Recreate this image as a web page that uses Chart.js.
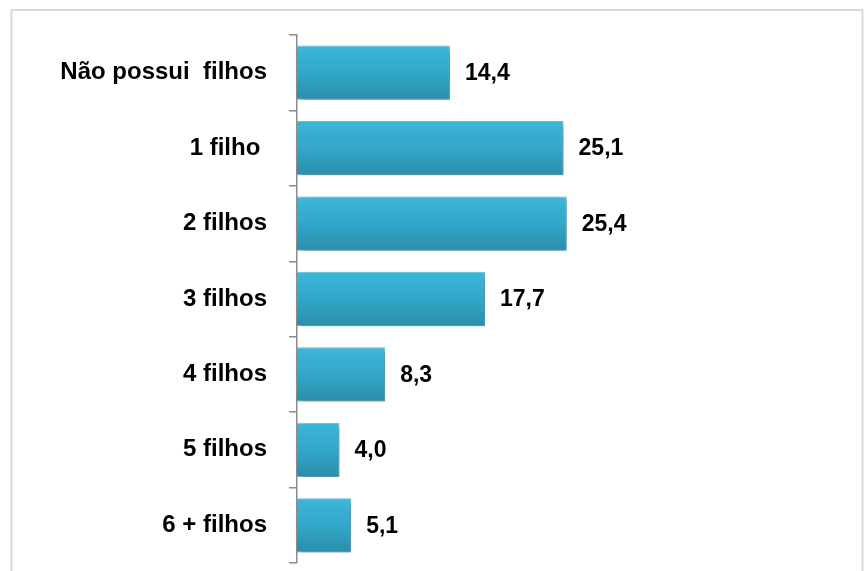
<!DOCTYPE html>
<html>
<head>
<meta charset="utf-8">
<script src="https://cdn.jsdelivr.net/npm/chart.js@4"></script>
<style>
html,body{margin:0;padding:0;background:#fff;}
#wrap{position:relative;width:864px;height:571px;}
</style>
</head>
<body>
<div id="wrap"><canvas id="c" width="864" height="571"></canvas></div>
<script>
const categories = ["Não possui  filhos", "1 filho ", "2 filhos", "3 filhos", "4 filhos", "5 filhos", "6 + filhos"];
const values = [14.4, 25.1, 25.4, 17.7, 8.3, 4.0, 5.1];

const fmt = v => v.toFixed(1).replace('.', ',');

const framePlugin = {
  id: 'frame',
  beforeDraw(chart) {
    const ctx = chart.ctx;
    ctx.save();
    ctx.fillStyle = '#fff';
    ctx.fillRect(0, 0, chart.width, chart.height);
    ctx.strokeStyle = '#d9d9d9';
    ctx.lineWidth = 2;
    ctx.strokeRect(11.5, 10, 851, 600);
    ctx.restore();
  }
};

const shadowPlugin = {
  id: 'shadow',
  beforeDatasetDraw(chart) {
    const ctx = chart.ctx;
    ctx.save();
    ctx.shadowColor = 'rgba(0,0,0,0.35)';
    ctx.shadowBlur = 6;
    ctx.shadowOffsetX = 3;
    ctx.shadowOffsetY = 3;
  },
  afterDatasetDraw(chart) {
    chart.ctx.restore();
  }
};

const labelPlugin = {
  id: 'vlabels',
  afterDatasetsDraw(chart) {
    const ctx = chart.ctx;
    const meta = chart.getDatasetMeta(0);
    ctx.save();
    ctx.font = 'bold 23px "Liberation Sans", Arial, sans-serif';
    ctx.fillStyle = '#000';
    ctx.textAlign = 'left';
    ctx.textBaseline = 'middle';
    meta.data.forEach((bar, i) => {
      ctx.fillText(fmt(values[i]), bar.x + 15, bar.y + 1);
    });
    ctx.restore();
  }
};

new Chart(document.getElementById('c'), {
  type: 'bar',
  data: {
    labels: categories,
    datasets: [{
      data: values,
      backgroundColor: (context) => {
        const chart = context.chart;
        const ys = chart.scales && chart.scales.y;
        if (!ys || context.dataIndex === undefined) return '#34a9cc';
        const yc = ys.getPixelForValue(context.dataIndex);
        if (!isFinite(yc)) return '#34a9cc';
        const g = chart.ctx.createLinearGradient(0, yc - 27, 0, yc + 27);
        g.addColorStop(0, '#3bb6da');
        g.addColorStop(0.5, '#33a7c9');
        g.addColorStop(1, '#2a8ea9');
        return g;
      },
      borderColor: '#6ec6e0',
      borderWidth: 1,
      borderSkipped: 'left',
      barPercentage: 0.72,
      categoryPercentage: 1.0
    }]
  },
  options: {
    indexAxis: 'y',
    responsive: false,
    animation: false,
    devicePixelRatio: 1,
    layout: { padding: { top: 35, bottom: 8, left: 0, right: 36 } },
    plugins: { legend: { display: false }, tooltip: { enabled: false } },
    scales: {
      x: { display: false, min: 0, max: 50 },
      y: {
        afterFit(scale) { scale.width = 297; },
        grid: {
          display: true, drawOnChartArea: false, offset: true,
          tickLength: 30, tickBorderDash: [0, 22, 8, 1000],
          color: '#8c8c8c', lineWidth: 1.5
        },
        border: { display: true, color: '#8c8c8c', width: 1.5 },
        ticks: {
          padding: 0,
          color: '#000',
          font: { family: '"Liberation Sans", Arial, sans-serif', size: 24, weight: 'bold', lineHeight: 0.5 }
        }
      }
    }
  },
  plugins: [framePlugin, shadowPlugin, labelPlugin]
});
</script>
</body>
</html>
